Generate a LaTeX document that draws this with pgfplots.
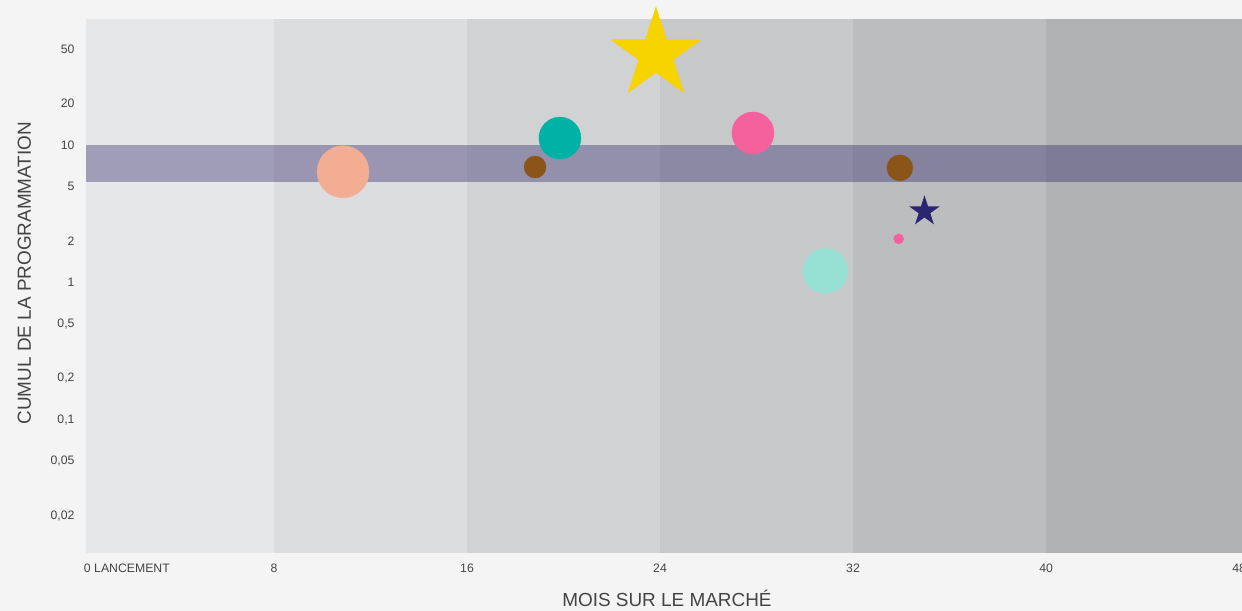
\documentclass[border=0pt]{standalone}
\usepackage{pgfplots}
\pgfplotsset{compat=1.18}
\usepackage{fontspec}
\setmainfont{Liberation Sans}
\definecolor{pagebg}{HTML}{F4F4F4}
\definecolor{b1}{HTML}{E6E7E9}
\definecolor{b2}{HTML}{DCDDDF}
\definecolor{b3}{HTML}{D1D2D4}
\definecolor{b4}{HTML}{C7C8CA}
\definecolor{b5}{HTML}{BCBDBF}
\definecolor{b6}{HTML}{B1B2B4}
\definecolor{bandc}{RGB}{41,31,101}
\definecolor{cpeach}{HTML}{F3AD93}
\definecolor{cteal}{HTML}{00B2A5}
\definecolor{cbrown}{HTML}{8B5519}
\definecolor{cpink}{HTML}{F5619D}
\definecolor{cyellow}{HTML}{F7D300}
\definecolor{cnavy}{HTML}{2C2670}
\definecolor{clteal}{HTML}{96DFD3}
\definecolor{txt}{HTML}{444444}
\pgfdeclareplotmark{fstar}{%
  \pgfpathmoveto{\pgfqpointpolar{90}{\pgfplotmarksize}}%
  \pgfpathlineto{\pgfqpointpolar{126}{0.382\pgfplotmarksize}}%
  \pgfpathlineto{\pgfqpointpolar{162}{\pgfplotmarksize}}%
  \pgfpathlineto{\pgfqpointpolar{198}{0.382\pgfplotmarksize}}%
  \pgfpathlineto{\pgfqpointpolar{234}{\pgfplotmarksize}}%
  \pgfpathlineto{\pgfqpointpolar{270}{0.382\pgfplotmarksize}}%
  \pgfpathlineto{\pgfqpointpolar{306}{\pgfplotmarksize}}%
  \pgfpathlineto{\pgfqpointpolar{342}{0.382\pgfplotmarksize}}%
  \pgfpathlineto{\pgfqpointpolar{18}{\pgfplotmarksize}}%
  \pgfpathlineto{\pgfqpointpolar{54}{0.382\pgfplotmarksize}}%
  \pgfpathclose
  \pgfusepathqfill
}
\begin{document}
\begin{tikzpicture}[x=1bp,y=1bp]
\fill[pagebg] (-86bp,-58bp) rectangle (1156bp,553bp);
\useasboundingbox (-86bp,-58bp) rectangle (1156bp,553bp);
\begin{axis}[
  at={(-5bp,0bp)}, anchor=south west,
  scale only axis, width=1161bp, height=534bp,
  xmin=0, xmax=48.12, ymode=log, ymin=0.0107, ymax=82.4,
  clip=false,
  axis line style={draw=none},
  major tick length=0pt, minor tick length=0pt,
  xtick={0,8,16,24,32,40,48},
  xticklabels={\makebox[0pt][l]{\hspace*{3bp}0 LANCEMENT},8,16,24,32,40,48},
  ytick={0.02,0.05,0.1,0.2,0.5,1,2,5,10,20,50},
  yticklabels={{0,02},{0,05},{0,1},{0,2},{0,5},1,2,5,10,20,50},
  tick label style={font=\fontsize{12.3}{14}\selectfont, text=txt},
  xticklabel style={yshift=-7bp},
  yticklabel style={xshift=-3bp},
  xlabel={MOIS SUR LE MARCHÉ},
  ylabel={CUMUL DE LA PROGRAMMATION},
  label style={font=\fontsize{19}{22}\selectfont, text=txt},
  xlabel style={at={(axis description cs:0.5047,-0.0993)}, anchor=base},
  ylabel style={at={(axis description cs:-0.0431,0.524)}, anchor=base, rotate=0},
]
\fill[b1] (axis cs:0.2,0.0107) rectangle (axis cs:8,82.4);
\fill[b2] (axis cs:8,0.0107) rectangle (axis cs:16,82.4);
\fill[b3] (axis cs:16,0.0107) rectangle (axis cs:24,82.4);
\fill[b4] (axis cs:24,0.0107) rectangle (axis cs:32,82.4);
\fill[b5] (axis cs:32,0.0107) rectangle (axis cs:40,82.4);
\fill[b6] (axis cs:40,0.0107) rectangle (axis cs:48.12,82.4);
\fill[bandc, fill opacity=0.37] (axis cs:0.2,5.4) rectangle (axis cs:48.12,9.9);
\addplot[only marks, mark=*, mark size=26bp, color=cpeach] coordinates {(10.86,6.37)};
\addplot[only marks, mark=*, mark size=11bp, color=cbrown] coordinates {(18.82,6.9)};
\addplot[only marks, mark=*, mark size=21bp, color=cteal] coordinates {(19.85,11.2)};
\addplot[only marks, mark=fstar, mark size=48bp, color=cyellow, mark options={fill=cyellow, draw=none}] coordinates {(23.83,45.6)};
\addplot[only marks, mark=*, mark size=21bp, color=cpink] coordinates {(27.85,12.2)};
\addplot[only marks, mark=*, mark size=13bp, color=cbrown] coordinates {(33.94,6.8)};
\addplot[only marks, mark=fstar, mark size=16bp, color=cnavy, mark options={fill=cnavy, draw=none}] coordinates {(34.96,3.28)};
\addplot[only marks, mark=*, mark size=5bp, color=cpink] coordinates {(33.89,2.07)};
\addplot[only marks, mark=*, mark size=22.5bp, color=clteal] coordinates {(30.85,1.21)};
\end{axis}
\end{tikzpicture}
\end{document}
